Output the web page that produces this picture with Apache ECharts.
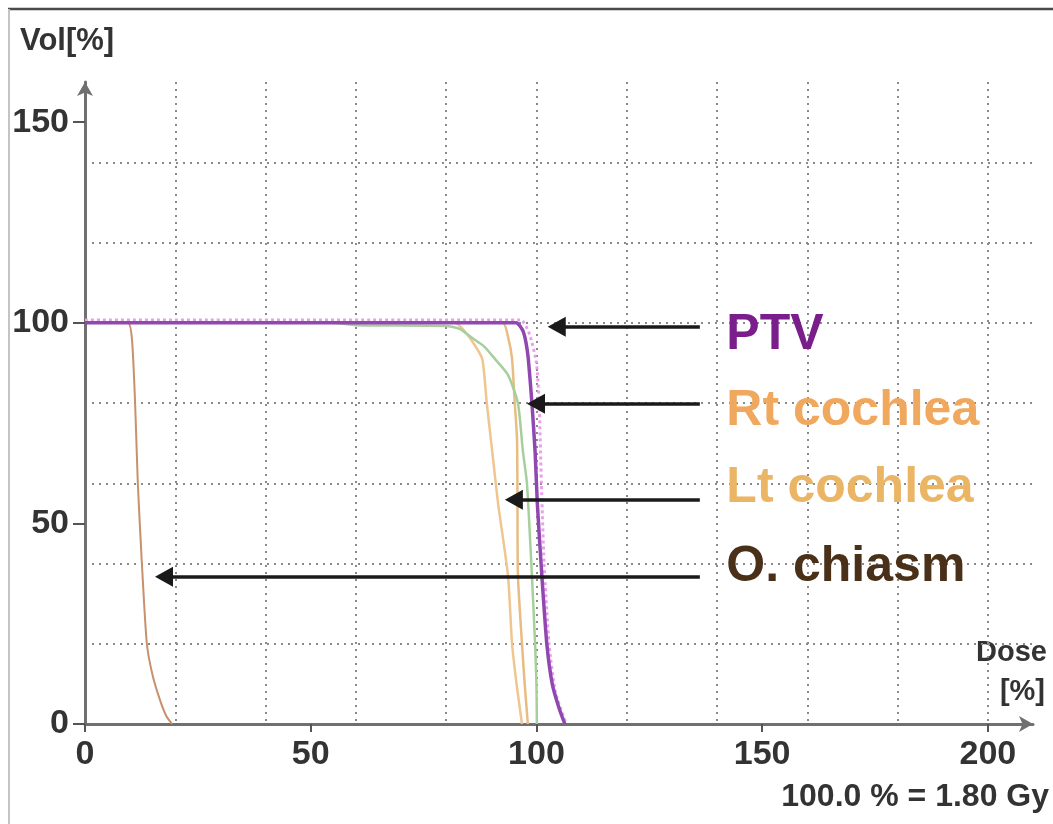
<!DOCTYPE html>
<html>
<head>
<meta charset="utf-8">
<title>DVH</title>
<script src="https://cdn.jsdelivr.net/npm/echarts@6/dist/echarts.min.js"></script>
<style>
  html, body { margin: 0; padding: 0; background: #fff; }
  #chartDiv { width: 1053px; height: 824px; }
</style>
</head>
<body>
<div id="chartDiv"></div>
<script>
// 剂量体积直方图 (dose %, volume %)
var ptv = [[0,100],[95.5,100],[97,98],[97.7,95],[98.2,91],[99,80],[99.7,68],[100.2,55],[101.2,37],[102.3,20],[103.5,10],[105,4],[106.3,0]];
var ptvHalo = [[0,100.7],[96.5,100.7],[98.5,97],[100,90],[100.6,80],[101.1,60],[101.7,40],[102.8,20],[104.2,8],[106.6,0]];
var rtCochlea = [[0,100],[92.5,100],[93.8,96],[94.6,91],[95.2,80],[95.7,71],[95.8,55],[95.9,37],[96.8,20],[97.4,10],[98.1,0]];
var ltCochlea = [[0,100],[82,100],[84,98],[86,95],[88,91],[89,80],[90.2,68],[91.5,55],[93.7,37],[94.6,20],[95.6,10],[96.8,0]];
var other = [[0,100],[55,100],[60,99.4],[80,99.2],[83,98.5],[86,96],[88.5,94],[90.8,91],[93.7,87],[95.9,80],[97,68],[97.9,60],[99,37],[99.7,20],[100,10],[100.1,0]];
var chiasm = [[0,100],[9.5,100],[10.4,96],[11.1,80],[11.7,60],[12.6,40],[13.7,20],[15,12],[16.6,6],[18,2],[19.3,0]];

// 标注箭头: 名称, 起点剂量, 终点剂量, 体积
var arrowNames = ['PTV', 'Rt cochlea', 'Lt cochlea', 'O. chiasm'];
var arrowFrom = [136.2, 136.2, 136.2, 136.2];
var arrowTo = [104.5, 99.9, 95, 17.5];
var arrowVol = [99, 79.8, 55.9, 36.7];
var arrowColors = ['#7a1e8c', '#f0a85e', '#ebb566', '#4a3018'];
var labelShift = [8, 7, -11, -10];

var xTicks = 50, gridStep = 20;

var myChart = echarts.init(document.getElementById('chartDiv'));

var font = '"Liberation Sans", Arial, sans-serif';
var arrows = arrowNames.map(function (n, i) {
    return [
        {coord: [arrowFrom[i], arrowVol[i]], symbol: 'none'},
        {coord: [arrowTo[i], arrowVol[i]], symbol: 'triangle', symbolSize: [20, 18]}
    ];
});
var arrowLabels = arrowNames.map(function (n, i) {
    return {
        coord: [arrowFrom[i], arrowVol[i]], symbol: 'circle', symbolSize: 1,
        itemStyle: {color: 'rgba(0,0,0,0)'},
        label: {show: true, position: 'right', distance: 26, offset: [0, labelShift[i]], formatter: n,
                color: arrowColors[i], fontSize: 50, fontWeight: 'bold', fontFamily: font}
    };
});

var lineOpts = {type: 'line', showSymbol: false, smooth: 0.2};

var option = {
    backgroundColor: '#fff',
    animation: false,
    grid: {left: 85, right: 20, top: 82, bottom: 100},
    xAxis: [{
        type: 'value', min: 0, max: 210, interval: xTicks,
        axisLine: {lineStyle: {color: '#707070', width: 3}, symbol: ['none', 'arrow'], symbolSize: [12, 14]},
        axisTick: {show: true, length: 8, lineStyle: {color: '#555', width: 2}},
        axisLabel: {fontSize: 34, fontWeight: 'bold', fontFamily: font, color: '#333', margin: 14, showMaxLabel: false},
        splitLine: {show: false}
    }, {
        type: 'value', min: 0, max: 210, interval: gridStep,
        axisLine: {show: false}, axisTick: {show: false}, axisLabel: {show: false},
        splitLine: {show: true, showMinLine: false, showMaxLine: false,
                    lineStyle: {color: '#8a8a8a', width: 2, type: [2, 5]}}
    }],
    yAxis: [{
        type: 'value', min: 0, max: 160, interval: 50,
        axisLine: {show: true, lineStyle: {color: '#707070', width: 3}, symbol: ['none', 'arrow'], symbolSize: [12, 14]},
        axisTick: {show: true, length: 12, lineStyle: {color: '#555', width: 2}},
        axisLabel: {fontSize: 34, fontWeight: 'bold', fontFamily: font, color: '#333', margin: 16, showMaxLabel: false},
        splitLine: {show: false}
    }, {
        type: 'value', min: 0, max: 160, interval: gridStep,
        axisLine: {show: false}, axisTick: {show: false}, axisLabel: {show: false},
        splitLine: {show: true, showMinLine: false, showMaxLine: false,
                    lineStyle: {color: '#8a8a8a', width: 2, type: [2, 5]}}
    }],
    series: [
        Object.assign({name: 'chiasm', data: chiasm, lineStyle: {color: '#c8906c', width: 2}}, lineOpts),
        Object.assign({name: 'Lt cochlea', data: ltCochlea, lineStyle: {color: '#efc690', width: 2.5}}, lineOpts),
        Object.assign({name: 'Rt cochlea', data: rtCochlea, lineStyle: {color: '#e9bc80', width: 2.5}}, lineOpts),
        Object.assign({name: 'other', data: other, lineStyle: {color: '#a6cf9c', width: 2.5}}, lineOpts),
        Object.assign({name: 'PTV halo', data: ptvHalo, lineStyle: {color: '#e9a0ea', width: 3, type: [3, 3]}}, lineOpts),
        Object.assign({name: 'PTV', data: ptv, lineStyle: {color: '#9048b0', width: 3.5},
         markLine: {silent: true, animation: false, symbol: ['none', 'triangle'],
                    label: {show: false},
                    lineStyle: {color: '#1a1a1a', width: 3.5, type: 'solid'},
                    data: arrows},
         markPoint: {silent: true, animation: false, data: arrowLabels}}, lineOpts)
    ],
    graphic: [
        {type: 'line', shape: {x1: 8, y1: 9, x2: 1053, y2: 9}, style: {stroke: '#4a4a4a', lineWidth: 2.5}},
        {type: 'line', shape: {x1: 9, y1: 9, x2: 9, y2: 824}, style: {stroke: '#c4c4c4', lineWidth: 2}},
        {type: 'text', left: 20, top: 26, style: {text: 'Vol[%]', font: 'bold 31px ' + font, fill: '#333'}},
        {type: 'text', right: 6, top: 638, style: {text: 'Dose', font: 'bold 29px ' + font, fill: '#333'}},
        {type: 'text', right: 8, top: 677, style: {text: '[%]', font: 'bold 29px ' + font, fill: '#333'}},
        {type: 'text', right: 4, top: 781, style: {text: '100.0 % = 1.80 Gy', font: 'bold 32px ' + font, fill: '#333'}}
    ]
};

myChart.setOption(option);
window.onresize = myChart.resize;
</script>
</body>
</html>
